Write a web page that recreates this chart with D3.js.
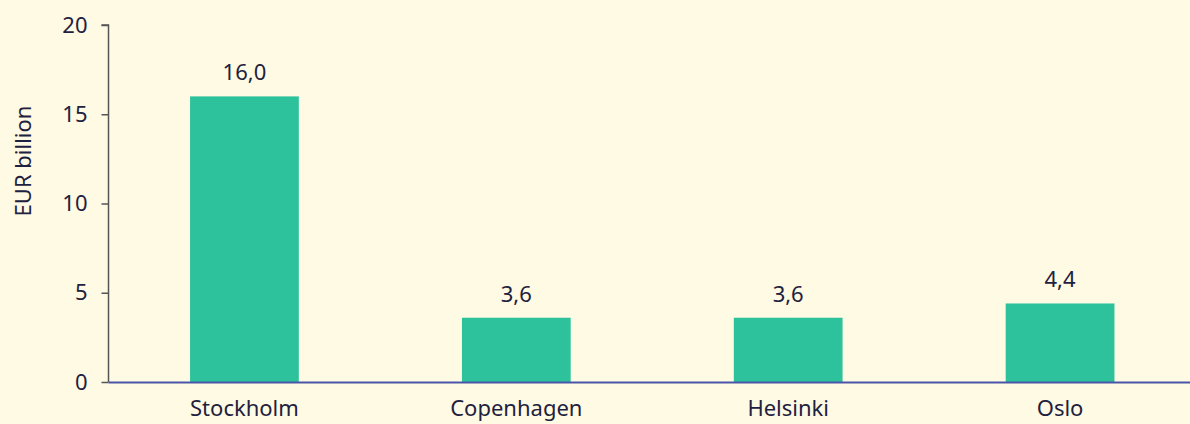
<!DOCTYPE html>
<html><head><meta charset="utf-8">
<script src="https://cdn.jsdelivr.net/npm/d3@7"></script>
<style>
html,body{margin:0;padding:0;background:#fefae3;}
svg{display:block;}
text{font-family:"Noto Sans",sans-serif;fill:#1f2140;}
</style></head><body>
<svg id="c" width="1190" height="424"></svg>
<script>
const categories = ["Stockholm","Copenhagen","Helsinki","Oslo"];
const values = [16.0, 3.6, 3.6, 4.4];
const yTicks = [0,5,10,15,20];

const svg = d3.select("#c");
const W = 1190, H = 424;
const FS = 22;
const x0 = 108.5, yBottom = 382, yTop = 25;
const x = d3.scaleBand().domain(categories).range([x0, 1196]).paddingInner(0.6).paddingOuter(0.3);
const y = d3.scaleLinear().domain([0,20]).range([yBottom, yTop]);

svg.append("rect").attr("width",W).attr("height",H).attr("fill","#fefae3");

svg.selectAll(".bar").data(categories).enter().append("rect")
  .attr("x", d=>x(d)).attr("width", x.bandwidth())
  .attr("y", (d,i)=>y(values[i])).attr("height",(d,i)=>yBottom - y(values[i]))
  .attr("fill","#2dc29c");

const yAxis = svg.append("g").attr("transform",`translate(${x0},0)`)
  .call(d3.axisLeft(y).tickValues(yTicks).tickSize(7).tickPadding(14).tickFormat(d3.format("d")));
yAxis.attr("font-family",null).attr("font-size",FS);
yAxis.select(".domain").attr("stroke","#555").attr("stroke-width",1.5).attr("d",`M-7,${yTop}H0V${yBottom}`);
yAxis.selectAll(".tick line").attr("stroke","#555").attr("stroke-width",1.5);
yAxis.selectAll(".tick text").style("fill","#1f2140");

svg.append("line").attr("x1",x0).attr("x2",W).attr("y1",yBottom+0.5).attr("y2",yBottom+0.5)
  .attr("stroke","#4a55a8").attr("stroke-width",2);

const xAxis = svg.append("g").attr("transform",`translate(0,${yBottom})`)
  .call(d3.axisBottom(x).tickSize(0).tickPadding(18));
xAxis.attr("font-family",null).attr("font-size",FS);
xAxis.select(".domain").remove();
xAxis.selectAll(".tick text").style("fill","#1f2140");

svg.selectAll(".lbl").data(categories).enter().append("text")
  .attr("x", d=>x(d)+x.bandwidth()/2).attr("y",(d,i)=>y(values[i]) - 16)
  .attr("text-anchor","middle").attr("font-size",FS)
  .text((d,i)=>values[i].toFixed(1).replace(".",","));

svg.append("text").attr("transform",`translate(31,161) rotate(-90)`)
  .attr("text-anchor","middle").attr("font-size",FS).text("EUR billion");
</script></body></html>
